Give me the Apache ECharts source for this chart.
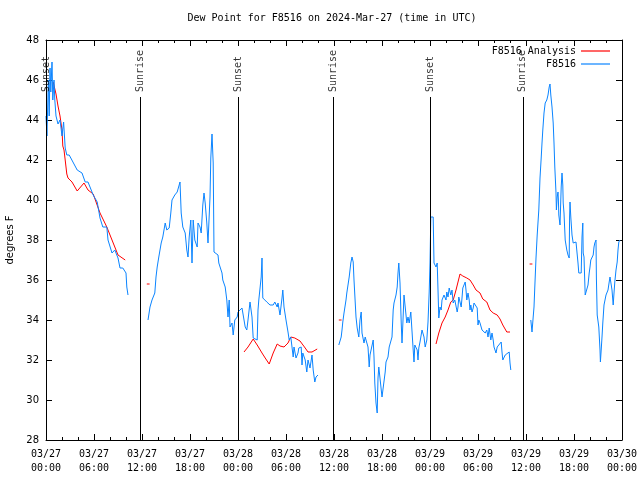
<!DOCTYPE html>
<html><head><meta charset="utf-8">
<script src="https://cdn.jsdelivr.net/npm/echarts@6/dist/echarts.min.js"></script>
<style>html,body{margin:0;padding:0;background:#fff}#c{width:640px;height:480px}</style>
</head><body><div id="c"></div>
<script>
// hours since 2024-03-27 00:00 UTC ; null value = gap
const blueHours = [
 0.0,0.12,0.2,0.3,0.4,0.5,0.6,0.75,0.85,1.0,1.1,1.25,1.5,1.75,2.0,2.2,2.4,2.6,2.9,3.9,4.5,4.9,5.25,5.9,6.4,6.75,7.1,7.6,7.75,8.25,8.6,9.0,9.25,9.6,10.0,10.1,10.25,
 11.5,
 12.75,13.0,13.25,13.6,13.75,13.9,14.1,14.4,14.6,14.9,15.1,15.4,15.6,15.75,16.1,16.4,16.5,16.75,16.9,17.1,17.4,17.6,17.75,17.9,18.1,18.25,18.4,18.6,18.9,19.0,19.25,19.4,19.6,19.75,19.9,20.1,20.25,20.5,20.6,20.75,20.9,21.0,21.25,21.5,21.6,22.0,22.1,22.4,22.6,22.75,22.9,23.0,23.25,23.4,23.6,23.9,24.0,24.5,24.6,24.9,25.1,25.25,25.5,25.75,25.9,26.1,26.4,26.5,26.6,26.9,27.0,27.1,27.25,27.6,27.75,28.0,28.4,28.6,28.9,29.0,29.25,29.5,29.6,29.75,30.0,30.25,30.4,30.6,30.9,31.0,31.25,31.5,31.6,31.9,32.0,32.1,32.4,32.6,32.75,33.0,33.25,33.4,33.6,33.75,34.0,
 35.0,
 36.6,36.9,37.0,37.1,37.25,37.5,37.6,37.75,37.9,38.1,38.25,38.4,38.5,38.75,38.9,39.1,39.25,39.4,39.5,39.75,39.9,40.0,40.25,40.4,40.5,40.75,40.9,41.0,41.1,41.25,41.4,41.5,41.6,41.75,42.0,42.1,42.4,42.5,42.75,42.9,43.1,43.25,43.4,43.5,43.75,43.9,44.0,44.1,44.25,44.4,44.5,44.6,44.75,45.0,45.1,45.25,45.4,45.6,45.75,45.9,46.0,46.1,46.4,46.5,46.6,46.75,47.0,47.1,47.25,47.4,47.6,47.75,47.9,48.0,48.1,48.4,48.5,48.75,48.9,49.0,49.1,49.25,49.4,49.5,49.6,49.75,50.0,50.1,50.25,50.4,50.6,50.75,50.9,51.1,51.4,51.5,51.6,51.9,52.0,52.1,52.4,52.5,52.6,52.75,52.9,53.0,53.1,53.25,53.4,53.5,53.75,53.9,54.0,54.1,54.25,54.5,54.6,54.9,55.1,55.25,55.4,55.6,55.75,55.9,56.0,56.25,56.4,56.6,56.9,57.0,57.1,57.4,57.6,57.9,58.0,58.1,
 59.0,
 60.6,60.75,60.9,61.0,61.1,61.25,61.4,61.6,61.75,61.9,62.0,62.1,62.25,62.4,62.6,62.75,62.9,63.0,63.1,63.25,63.4,63.5,63.6,63.75,63.8,63.9,64.0,64.05,64.1,64.25,64.4,64.5,64.6,64.65,64.75,64.9,65.1,65.25,65.4,65.45,65.5,65.6,65.75,65.9,66.25,66.4,66.5,66.6,66.9,67.0,67.1,67.15,67.25,67.4,67.6,67.75,67.9,68.0,68.1,68.25,68.4,68.5,68.6,68.75,68.8,68.9,69.1,69.25,69.3,69.4,69.5,69.6,69.75,70.0,70.1,70.25,70.4,70.5,70.6,70.75,70.9,71.0,71.1,71.25,71.4,71.5,71.6,71.75
];
const blueValues = [
 44.2,43.2,44.5,46.0,44.2,46.6,45.4,46.9,45.0,46.0,45.0,44.2,43.8,44.0,43.2,43.9,42.6,42.25,42.25,41.5,41.35,40.9,40.9,40.25,39.9,39.1,38.65,38.65,38.0,37.35,37.5,37.1,36.6,36.6,36.35,35.65,35.25,
 null,
 34.0,34.65,35.0,35.35,36.15,36.65,37.15,37.85,38.15,38.85,38.5,38.6,39.35,40.0,40.25,40.4,40.5,40.9,39.35,38.65,38.35,37.5,37.15,38.15,39.0,36.85,39.0,38.0,37.65,38.85,38.65,38.35,39.75,40.35,39.85,38.85,37.85,40.15,42.1,43.3,41.85,37.4,37.35,37.25,36.85,36.35,36.0,35.65,35.0,34.15,35.0,33.65,33.85,33.25,34.0,34.15,34.4,34.6,34.5,33.65,33.5,34.0,34.9,34.15,33.1,33.15,33.0,34.5,35.0,36.15,37.1,35.1,35.15,34.9,35.0,34.75,34.75,34.9,34.65,34.85,34.25,35.1,35.5,34.65,34.0,33.4,33.0,33.15,32.15,32.65,32.1,32.35,32.6,32.65,31.75,32.35,32.0,31.4,32.0,31.6,32.25,31.5,30.9,31.15,31.25,
 null,
 32.75,33.15,33.5,33.9,34.35,35.0,35.35,35.4,36.15,36.85,37.15,36.9,36.0,34.15,33.6,33.15,34.0,34.4,33.35,32.85,33.15,33.0,32.65,31.65,32.25,32.15,33.0,32.15,30.85,29.85,29.35,31.1,31.65,31.75,30.15,30.15,31.4,31.9,32.15,32.65,32.75,33.15,34.5,34.85,35.25,35.65,36.35,36.85,35.85,33.9,32.85,33.75,35.25,35.15,33.85,34.15,33.85,34.4,34.45,32.5,31.9,32.75,32.5,32.0,32.6,32.9,33.5,33.4,33.15,32.65,33.0,33.9,35.4,36.85,39.15,39.15,36.85,36.65,36.85,35.5,34.1,34.65,34.5,35.0,35.1,35.25,35.0,35.4,35.15,35.6,35.25,35.5,34.85,35.0,34.4,34.65,35.15,34.65,35.1,35.6,35.9,35.5,35.0,35.35,35.0,34.5,34.75,34.4,34.6,34.85,34.75,34.6,33.75,34.0,33.85,33.5,33.5,33.35,33.5,33.15,33.6,33.0,33.35,33.0,32.65,32.35,32.65,32.75,32.9,32.4,32.0,32.25,32.35,32.4,31.85,31.5,
 null,
 34.0,33.4,34.15,34.65,35.65,37.1,38.25,39.5,41.1,42.1,42.85,43.5,44.35,44.85,45.0,45.25,45.65,45.8,45.25,44.65,43.85,42.85,41.65,40.35,39.5,40.15,40.4,40.0,39.25,38.75,40.65,41.35,40.75,39.85,39.35,38.0,37.5,37.25,37.1,39.15,39.9,39.15,38.25,37.85,37.9,37.85,36.85,36.35,36.35,38.15,38.85,37.35,37.15,35.25,35.25,35.75,36.35,36.65,37.0,37.1,37.25,37.65,37.85,38.0,36.1,34.25,33.65,32.5,31.9,32.5,33.15,33.85,34.75,35.25,35.25,35.5,35.9,36.15,36.15,35.5,34.75,35.35,35.9,36.5,36.9,37.5,37.9,38.0
];
const redHours = [
 0.9,1.25,1.5,1.75,2.0,2.1,2.25,2.4,2.6,2.75,3.25,3.9,4.75,5.25,5.9,6.75,7.6,8.25,9.0,9.9,
 11.0,
 12.6,12.95,
 14.0,
 24.75,25.25,25.9,26.4,27.0,27.4,27.9,28.4,28.9,29.25,29.75,30.25,30.6,31.1,31.75,32.4,32.75,33.25,33.4,33.9,
 35.0,
 36.6,36.95,
 38.0,
 48.75,49.0,49.1,49.5,49.9,50.25,50.6,50.9,51.25,51.5,51.75,52.1,52.6,53.0,53.4,53.75,54.25,54.6,55.1,55.5,55.9,56.4,56.75,57.1,57.6,58.0,
 59.0,
 60.45,60.8
];
const redValues = [
 45.9,45.3,44.7,44.2,43.5,42.7,42.5,42.0,41.3,41.1,40.9,40.45,40.85,40.5,40.3,39.35,38.65,38.0,37.25,37.0,
 null,
 35.8,35.8,
 null,
 32.4,32.65,33.05,32.75,32.35,32.1,31.8,32.35,32.8,32.7,32.65,32.85,33.15,33.1,32.95,32.6,32.4,32.4,32.5,32.55,
 null,
 34.0,34.0,
 null,
 32.8,32.85,33.35,33.85,34.15,34.5,34.9,35.0,35.5,35.9,36.3,36.2,36.1,36.0,35.75,35.5,35.35,35.05,34.9,34.5,34.35,34.25,34.05,33.75,33.4,33.4,
 null,
 36.8,36.8
];
const eventNames = ['Sunset','Sunrise','Sunset','Sunrise','Sunset','Sunrise'];
const eventHours = [0.06, 11.75, 24.05, 35.9, 48.08, 59.6];
const yTicks = [28,30,32,34,36,38,40,42,44,46,48];
const xTickLabels = ['03/27\n00:00','03/27\n06:00','03/27\n12:00','03/27\n18:00','03/28\n00:00','03/28\n06:00','03/28\n12:00','03/28\n18:00','03/29\n00:00','03/29\n06:00','03/29\n12:00','03/29\n18:00','03/30\n00:00'];

const MONO = 'DejaVu Sans Mono';
const LINE_TOP = 45.15, LABEL_Y = 45.3;

const chart = echarts.init(document.getElementById('c'), null, {renderer:'canvas'});
const mk = (hs, vs) => hs.map((h,i) => [h, vs[i] === null ? '-' : vs[i]]);
const xCommon = {type:'value', min:0, max:72, interval:6,
  axisLine:{show:true, onZero:false, lineStyle:{color:'#000', width:1}},
  splitLine:{show:false}};
const yCommon = {type:'value', min:28, max:48, interval:2,
  axisLine:{show:true, onZero:false, lineStyle:{color:'#000', width:1}},
  splitLine:{show:false}};
chart.setOption({
  animation:false,
  backgroundColor:'#fff',
  title:{text:'Dew Point for F8516 on 2024-Mar-27 (time in UTC)', left:332, top:13, textAlign:'center', padding:0,
    textStyle:{fontFamily:MONO, fontSize:10, fontWeight:'normal', color:'#000'}},
  legend:{data:['F8516 Analysis','F8516'], orient:'vertical', right:25, top:40, align:'right',
    icon:'rect', itemWidth:29, itemHeight:1.2, itemGap:1, textStyle:{fontFamily:MONO, fontSize:10, color:'#000', lineHeight:12}},
  grid:{left:46, right:18, top:40, bottom:40, containLabel:false, outerBoundsMode:'none'},
  xAxis:[
    Object.assign({}, xCommon, {position:'bottom',
      axisTick:{show:true, inside:true, length:6, lineStyle:{color:'#000'}},
      minorTick:{show:true, splitNumber:3, length:3, lineStyle:{color:'#000'}},
      axisLabel:{margin:7, fontFamily:MONO, fontSize:10, color:'#000', lineHeight:14,
        formatter:(v)=>xTickLabels[Math.round(v/6)]}}),
    Object.assign({}, xCommon, {position:'top',
      axisTick:{show:true, inside:true, length:6, lineStyle:{color:'#000'}},
      minorTick:{show:true, splitNumber:3, length:3, lineStyle:{color:'#000'}},
      axisLabel:{show:false}})
  ],
  yAxis:[
    Object.assign({}, yCommon, {position:'left', name:'degrees F', nameLocation:'middle', nameGap:31, nameRotate:90,
      nameTextStyle:{fontFamily:'DejaVu Sans', fontSize:10, color:'#000'},
      axisTick:{show:true, inside:true, length:6, lineStyle:{color:'#000'}},
      axisLabel:{margin:7, fontFamily:'DejaVu Sans', fontSize:10, color:'#000',
        formatter:(v)=>yTicks.includes(v)?String(v):''}}),
    Object.assign({}, yCommon, {position:'right',
      axisTick:{show:true, inside:true, length:6, lineStyle:{color:'#000'}},
      axisLabel:{show:false}})
  ],
  series:[
    {name:'F8516 Analysis', type:'line', data:mk(redHours, redValues), showSymbol:false, symbol:'none',
      color:'#ff0000', lineStyle:{width:1, color:'#ff0000'}, connectNulls:false, z:3},
    {name:'F8516', type:'line', data:mk(blueHours, blueValues), showSymbol:false, symbol:'none',
      color:'#0a84ff', lineStyle:{width:1, color:'#0a84ff'}, connectNulls:false, z:4},
    {name:'events', type:'line', data:[], symbol:'none', silent:true, z:5,
      markLine:{silent:true, symbol:['none','none'], label:{show:false}, animation:false,
        lineStyle:{color:'#000', width:1, type:'solid'},
        data:eventHours.map(h=>[{coord:[h,28]},{coord:[h,LINE_TOP]}])}},
    {name:'eventLabels', type:'scatter', symbolSize:0, silent:true, z:6,
      data:eventHours.map((h,i)=>({value:[h,LABEL_Y], name:eventNames[i]})),
      label:{show:true, formatter:(p)=>p.name, rotate:90, position:'inside', align:'left', verticalAlign:'middle',
        offset:[2,0], fontFamily:MONO, fontSize:10, color:'#000'}}
  ]
});
</script></body></html>
